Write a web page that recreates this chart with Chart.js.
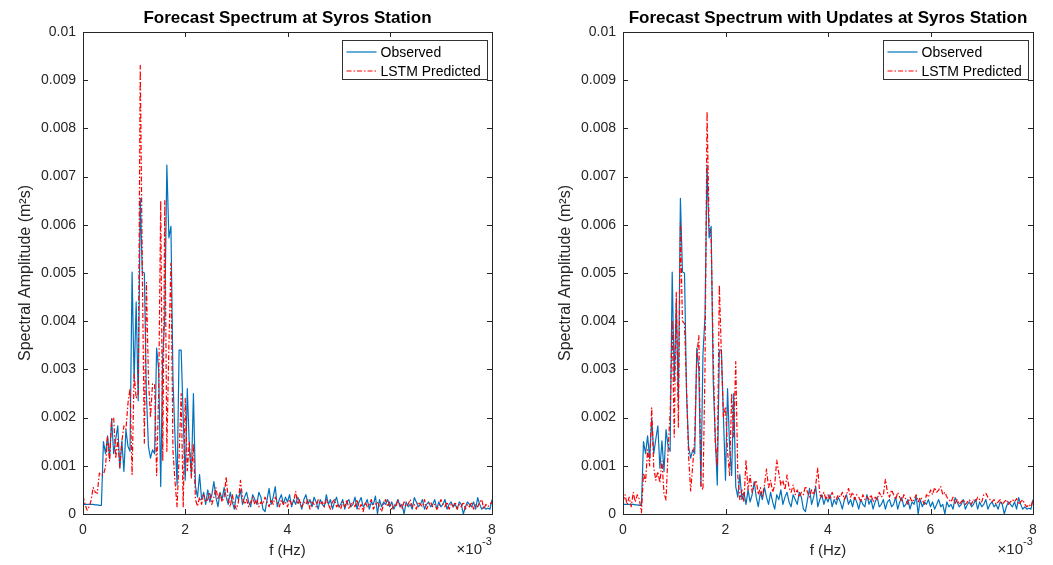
<!DOCTYPE html>
<html>
<head>
<meta charset="utf-8">
<script src="https://cdn.jsdelivr.net/npm/chart.js@4.4.1/dist/chart.umd.min.js"></script>
<style>
  html, body { margin: 0; padding: 0; background: #fff; }
  #wrap { position: relative; width: 1053px; height: 565px; overflow: hidden; }
  canvas { position: absolute; top: 0; }
  #leftChart { left: 0; }
  #rightChart { left: 526px; }
</style>
</head>
<body>
<div id="wrap">
  <canvas id="leftChart" width="526" height="565"></canvas>
  <canvas id="rightChart" width="527" height="565"></canvas>
</div>
<script>
// ============================
// Data (f in 1e-3 Hz, amplitude in 1e-3 m^2 s)
// ============================
const df = 0.04; // frequency bin width

const observed = [
  0.20, 0.20, 0.20, 0.20, 0.20, 0.20, 0.19, 0.19, 0.18, 0.18,
  1.50, 1.25, 1.62, 1.15, 1.98, 1.25, 1.55, 1.83, 0.95, 1.52,
  0.88, 1.75, 1.40, 1.30, 5.02, 2.75, 4.40, 2.35, 6.55, 5.02,
  5.00, 2.50, 1.40, 1.16, 1.33, 1.25, 3.44, 3.00, 0.57, 3.30,
  4.10, 7.24, 5.73, 5.97, 2.78, 1.60, 0.60, 3.40, 3.40, 2.00,
  0.70, 2.60, 1.40, 0.80, 2.50, 0.57, 0.35, 0.82, 0.30, 0.45,
  0.20, 0.50, 0.25, 0.40, 0.67, 0.35, 0.15, 0.45, 0.30, 0.55,
  0.35, 0.20, 0.45, 0.25, 0.10, 0.40, 0.30, 0.50, 0.20, 0.35,
  0.45, 0.25, 0.15, 0.40, 0.30, 0.20, 0.45, 0.35, 0.10, 0.05,
  0.30, 0.53, 0.20, 0.35, 0.57, 0.15, 0.30, 0.40, 0.20, 0.35,
  0.25, 0.40, 0.15, 0.30, 0.20, 0.35, 0.25, 0.10, 0.30, 0.40,
  0.20, 0.30, 0.15, 0.35, 0.25, 0.10, 0.30, 0.20, 0.15, 0.40,
  0.20, 0.30, 0.10, 0.25, 0.35, 0.15, 0.20, 0.30, 0.10, 0.25,
  0.30, 0.15, 0.20, 0.35, 0.10, 0.25, 0.34, 0.15, 0.20, 0.30,
  0.10, 0.25, 0.20, 0.37, 0.00, 0.30, 0.15, 0.25, 0.20, 0.30,
  0.15, 0.25, 0.10, 0.20, 0.30, 0.15, 0.20, 0.00, 0.25, 0.15,
  0.20, 0.10, 0.34, 0.25, 0.15, 0.20, 0.30, 0.10, 0.20, 0.25,
  0.15, 0.20, 0.30, 0.10, 0.25, 0.15, 0.20, 0.30, 0.10, 0.20,
  0.25, 0.15, 0.20, 0.10, 0.25, 0.20, 0.00, 0.15, 0.25, 0.20,
  0.15, 0.25, 0.10, 0.34, 0.20, 0.10, 0.15, 0.10, 0.12, 0.10,
  0.30
];

const lstmPredicted = [
  0.38, 0.20, 0.08, 0.15, 0.29, 0.55, 0.45, 0.43, 0.85, 0.80,
  0.82, 0.97, 1.60, 1.10, 1.95, 2.00, 1.15, 1.55, 0.97, 1.50,
  1.83, 1.76, 2.30, 2.60, 0.82, 2.90, 2.40, 2.50, 9.31, 5.06,
  1.47, 4.80, 2.80, 2.00, 2.70, 2.70, 0.80, 2.50, 6.50, 1.10,
  6.50, 1.30, 3.50, 5.20, 1.30, 0.67, 0.15, 1.20, 2.50, 0.15,
  2.40, 0.90, 1.50, 0.75, 1.45, 0.30, 0.16, 0.35, 0.20, 0.40,
  0.25, 0.30, 0.45, 0.20, 0.35, 0.55, 0.30, 0.45, 0.25, 0.35,
  0.77, 0.30, 0.15, 0.40, 0.20, 0.10, 0.25, 0.70, 0.35, 0.20,
  0.30, 0.15, 0.25, 0.35, 0.20, 0.30, 0.15, 0.25, 0.20, 0.35,
  0.25, 0.15, 0.30, 0.20, 0.35, 0.25, 0.15, 0.30, 0.20, 0.25,
  0.15, 0.30, 0.20, 0.25, 0.47, 0.20, 0.30, 0.15, 0.25, 0.20,
  0.30, 0.10, 0.25, 0.20, 0.15, 0.30, 0.20, 0.25, 0.15, 0.30,
  0.20, 0.10, 0.25, 0.30, 0.15, 0.20, 0.10, 0.25, 0.15, 0.30,
  0.10, 0.20, 0.25, 0.15, 0.30, 0.10, 0.20, 0.05, 0.25, 0.15,
  0.20, 0.30, 0.10, 0.20, 0.25, 0.15, 0.05, 0.20, 0.30, 0.15,
  0.25, 0.10, 0.20, 0.15, 0.30, 0.20, 0.10, 0.25, 0.15, 0.20,
  0.30, 0.15, 0.20, 0.10, 0.25, 0.20, 0.15, 0.30, 0.10, 0.20,
  0.25, 0.15, 0.20, 0.10, 0.15, 0.30, 0.20, 0.15, 0.25, 0.10,
  0.20, 0.15, 0.25, 0.10, 0.20, 0.15, 0.25, 0.10, 0.20, 0.15,
  0.25, 0.10, 0.20, 0.15, 0.25, 0.30, 0.10, 0.20, 0.15, 0.20,
  0.25
];

const lstmUpdated = [
  0.25, 0.40, 0.20, 0.35, 0.15, 0.45, 0.25, 0.40, 0.30, 0.03,
  0.85, 0.67, 1.33, 1.00, 2.20, 0.97, 0.70, 0.88, 0.65, 1.10,
  0.43, 0.29, 1.33, 2.10, 4.02, 1.60, 4.60, 1.80, 6.03, 4.00,
  3.95, 2.60, 1.20, 0.48, 1.00, 1.60, 3.30, 3.70, 0.60, 0.50,
  3.00, 8.35, 6.00, 5.70, 3.30, 1.50, 1.00, 4.75, 3.30, 2.00,
  2.23, 1.30, 0.80, 2.50, 1.60, 3.16, 0.80, 0.30, 0.50, 0.25,
  1.12, 0.50, 0.80, 0.45, 0.60, 0.70, 0.40, 0.55, 0.35, 0.60,
  0.93, 0.55, 0.70, 0.45, 0.60, 1.12, 0.85, 0.60, 0.70, 0.50,
  0.81, 0.55, 0.45, 0.60, 0.40, 0.50, 0.35, 0.45, 0.40, 0.58,
  0.45, 0.35, 0.50, 0.40, 0.60, 0.95, 0.40, 0.35, 0.45, 0.30,
  0.40, 0.30, 0.45, 0.35, 0.30, 0.40, 0.35, 0.45, 0.30, 0.40,
  0.53, 0.35, 0.45, 0.30, 0.40, 0.35, 0.25, 0.40, 0.30, 0.36,
  0.30, 0.40, 0.25, 0.35, 0.30, 0.45, 0.35, 0.40, 0.72, 0.45,
  0.35, 0.50, 0.40, 0.30, 0.45, 0.35, 0.25, 0.40, 0.30, 0.20,
  0.35, 0.25, 0.30, 0.40, 0.25, 0.35, 0.30, 0.20, 0.40, 0.35,
  0.50, 0.40, 0.55, 0.45, 0.50, 0.57, 0.40, 0.45, 0.35, 0.30,
  0.25, 0.35, 0.22, 0.30, 0.20, 0.25, 0.30, 0.20, 0.25, 0.30,
  0.20, 0.30, 0.25, 0.35, 0.30, 0.25, 0.40, 0.43, 0.35, 0.30,
  0.25, 0.30, 0.20, 0.25, 0.30, 0.20, 0.25, 0.30, 0.20, 0.25,
  0.30, 0.25, 0.32, 0.20, 0.25, 0.30, 0.20, 0.15, 0.20, 0.15,
  0.30
];

const xTickLabels = ["0", "2", "4", "6", "8"];
const yTickLabels = ["0", "0.001", "0.002", "0.003", "0.004", "0.005",
                     "0.006", "0.007", "0.008", "0.009", "0.01"];
const seriesLabels = ["Observed", "LSTM Predicted"];

const FONT = "'Liberation Sans', Arial, Helvetica, sans-serif";
const INK = "#262626";

const freq = observed.map((_, i) => i * df);
const toPoints = (ys) => ys.map((y, i) => ({ x: freq[i], y }));

// ============================
// Axes box + inward ticks (MATLAB style)
// ============================
const framePlugin = {
  id: "frame",
  afterDatasetsDraw(chart) {
    const { ctx, chartArea: { left, right, top, bottom }, scales: { x, y } } = chart;
    ctx.save();
    ctx.strokeStyle = INK;
    ctx.lineWidth = 1;
    ctx.beginPath();
    x.ticks.forEach(t => {
      const px = Math.round(x.getPixelForValue(t.value)) + 0.5;
      ctx.moveTo(px, bottom); ctx.lineTo(px, bottom - 5);
      ctx.moveTo(px, top); ctx.lineTo(px, top + 5);
    });
    y.ticks.forEach(t => {
      const py = Math.round(y.getPixelForValue(t.value)) + 0.5;
      ctx.moveTo(left, py); ctx.lineTo(left + 5, py);
      ctx.moveTo(right, py); ctx.lineTo(right - 5, py);
    });
    ctx.stroke();
    ctx.strokeRect(Math.round(left) + 0.5, Math.round(top) + 0.5,
                   Math.round(right - left), Math.round(bottom - top));
    ctx.restore();
  }
};

// ============================
// Title, legend box, x10^-3 exponent
// ============================
const decorPlugin = {
  id: "decor",
  afterDraw(chart, args, opts) {
    const { ctx, chartArea: { left, right, top, bottom } } = chart;
    ctx.save();

    // title
    ctx.fillStyle = "#000";
    ctx.font = "bold 17px " + FONT;
    ctx.textAlign = "center";
    ctx.textBaseline = "middle";
    ctx.fillText(opts.title, (left + right) / 2, 18);

    // legend
    const w = 145, h = 39;
    const bx = Math.round(right - 5 - w) + 0.5;
    const by = Math.round(top + 8) + 0.5;
    ctx.fillStyle = "#fff";
    ctx.fillRect(bx, by, w, h);
    ctx.strokeStyle = "#333";
    ctx.lineWidth = 1;
    ctx.strokeRect(bx, by, w, h);
    ctx.font = "14px " + FONT;
    ctx.textAlign = "left";
    chart.data.datasets.forEach((ds, i) => {
      const ly = by + 11.5 + i * 19;
      ctx.strokeStyle = ds.borderColor;
      ctx.lineWidth = ds.borderWidth;
      ctx.setLineDash(ds.borderDash || []);
      ctx.beginPath();
      ctx.moveTo(bx + 4, ly);
      ctx.lineTo(bx + 34, ly);
      ctx.stroke();
      ctx.setLineDash([]);
      ctx.fillStyle = "#000";
      ctx.fillText(ds.label, bx + 38, ly + 1);
    });

    // exponent
    ctx.fillStyle = INK;
    ctx.textAlign = "right";
    ctx.textBaseline = "alphabetic";
    ctx.font = "15px " + FONT;
    ctx.fillText("\u00d710", right - 10, bottom + 40);
    ctx.textAlign = "left";
    ctx.font = "11px " + FONT;
    ctx.fillText("-3", right - 10, bottom + 31);
    ctx.restore();
  }
};

// ============================
// Build one subplot
// ============================
function initSpectrumChart(canvasId, title, predicted, plotLeft, padRight, yTitlePad) {
  const ctx = document.getElementById(canvasId).getContext("2d");
  return new Chart(ctx, {
    type: "line",
    data: {
      datasets: [{
        label: seriesLabels[0],
        data: toPoints(observed),
        borderColor: "#0072BD",
        borderWidth: 1.2,
        order: 1
      }, {
        label: seriesLabels[1],
        data: toPoints(predicted),
        borderColor: "#FF0000",
        borderWidth: 1.2,
        borderDash: [5, 2, 1.5, 2],
        order: 0
      }]
    },
    options: {
      responsive: false,
      animation: false,
      devicePixelRatio: 1,
      layout: { padding: { top: 32, right: padRight, bottom: 0, left: 0 } },
      elements: {
        point: { radius: 0 },
        line: { tension: 0, borderJoinStyle: "round" }
      },
      plugins: {
        legend: { display: false },
        tooltip: { enabled: false },
        decor: { title }
      },
      scales: {
        x: {
          type: "linear",
          min: 0,
          max: 8,
          afterFit: (s) => { s.height = 51; },
          grid: { display: false, drawTicks: false },
          border: { display: false },
          ticks: {
            stepSize: 2,
            autoSkip: false,
            maxRotation: 0,
            padding: 8,
            color: INK,
            font: { size: 14, family: FONT },
            callback: (v, i) => xTickLabels[i]
          },
          title: {
            display: true,
            text: "f (Hz)",
            color: INK,
            font: { size: 15, family: FONT },
            padding: { top: 0, bottom: 5 }
          }
        },
        y: {
          min: 0,
          max: 10,
          afterFit: (s) => { s.width = plotLeft; },
          grid: { display: false, drawTicks: false },
          border: { display: false },
          ticks: {
            stepSize: 1,
            autoSkip: false,
            padding: 7,
            color: INK,
            font: { size: 14, family: FONT },
            callback: (v, i) => yTickLabels[i]
          },
          title: {
            display: true,
            text: "Spectral Amplitude (m\u00b2s)",
            color: INK,
            font: { size: 16, family: FONT },
            padding: { top: yTitlePad, bottom: 0 }
          }
        }
      }
    },
    plugins: [framePlugin, decorPlugin]
  });
}

initSpectrumChart("leftChart", "Forecast Spectrum at Syros Station", lstmPredicted, 83, 34, 16);
initSpectrumChart("rightChart", "Forecast Spectrum with Updates at Syros Station", lstmUpdated, 97, 20, 30);
</script>
</body>
</html>
